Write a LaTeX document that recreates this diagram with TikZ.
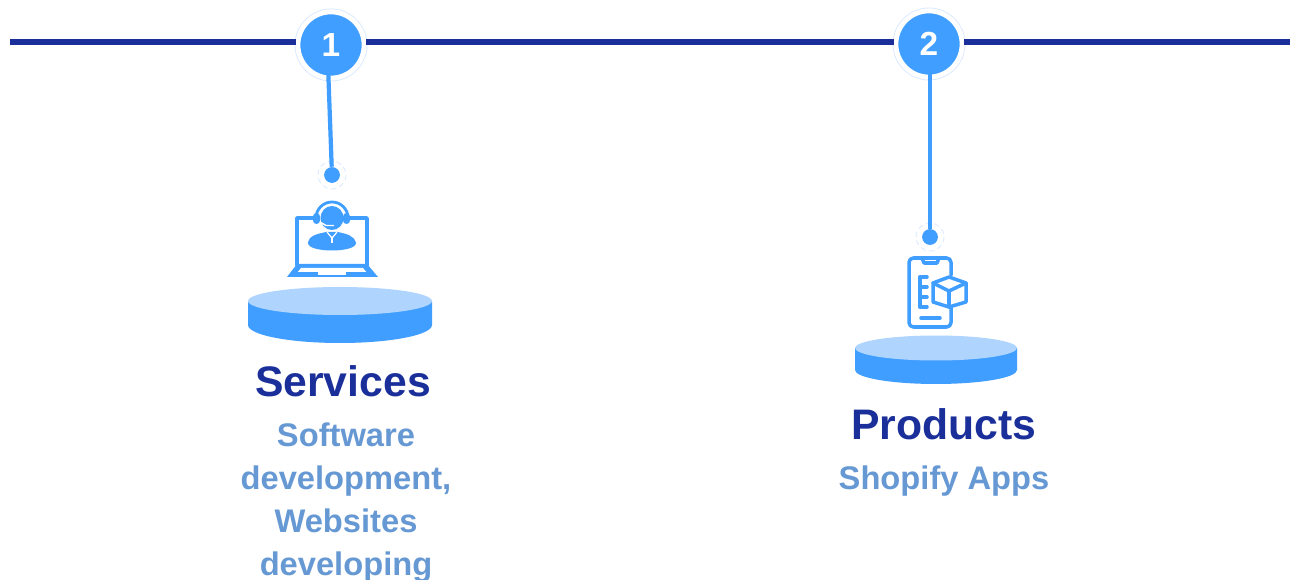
\documentclass[tikz,border=0pt]{standalone}
\usepackage{xcolor}
\usepackage{fontspec}
\setmainfont{Liberation Sans}
\definecolor{navyline}{HTML}{1B2F9B}
\definecolor{skyblue}{HTML}{3F9EFF}
\definecolor{palesky}{HTML}{AFD5FF}
\definecolor{ringblue}{HTML}{DCEBFF}
\definecolor{subblue}{HTML}{6699D3}
\tikzset{
	numdot/.style={circle,fill=skyblue,draw=white,line width=2.6pt,minimum size=37.5pt,inner sep=0pt,text=white,font=\bfseries\fontsize{19}{19}\selectfont},
	enddot/.style={circle,fill=skyblue,minimum size=9pt,inner sep=0pt},
	ring/.style={draw=ringblue,line width=0.5pt},
	heading/.style={text=navyline,font=\bfseries\fontsize{24.3}{28}\selectfont,inner sep=0pt},
	subtext/.style={text=subblue,font=\bfseries\fontsize{18.6}{24.5}\selectfont,align=center,inner sep=0pt},
	icon/.style={draw=skyblue,line width=2pt,line join=round,line cap=round},
	lead/.style={skyblue,line width=2.4pt,shorten <=-3pt},
	rail/.style={navyline,line width=3.4pt}
}
\begin{document}
\begin{tikzpicture}[x=0.02cm,y=-0.02cm]
		\useasboundingbox[fill=white](0,0)rectangle(1290,580);
		\coordinate (linestart) at (10,42);
		\coordinate (lineend) at (1290,42);
		\draw[ring](331,45)circle(36);
		\draw[ring](929,44)circle(36);
		\draw[ring,densely dashed](332,175)circle(14);
		\draw[ring,densely dashed](930,237)circle(14);
		\node[numdot] (one) at (331,45){1};
		\node[numdot] (two) at (929,44){2};
		\node[enddot] (dotone) at (332,175){};
		\node[enddot] (dottwo) at (930,237){};
		% timeline and leads
		\draw[rail](linestart)--(linestart-|one.west);
		\draw[rail](linestart-|one.east)--(linestart-|two.west);
		\draw[rail](linestart-|two.east)--(lineend);
		\draw[lead](one.266)--(dotone);
		\draw[lead](two.south-|dottwo)--(dottwo);
		% disk under the laptop
		\fill[skyblue](248,302)--(248,325) arc[start angle=180,end angle=360,x radius=92,y radius=-18]--(432,302)--cycle;
		\fill[palesky](340,301)ellipse[x radius=92,y radius=14];
		% disk under the phone
		\fill[skyblue](855,348)--(855,370) arc[start angle=180,end angle=360,x radius=81,y radius=-14]--(1017,348)--cycle;
		\fill[palesky](936,348)ellipse[x radius=81,y radius=12.5];
		% laptop
		\draw[icon](313,218)--(297,218)--(297,265);
		\draw[icon](350,218)--(367,218)--(367,265);
		\fill[skyblue](297,264)--(367,264)--(378,277)--(287,277)--cycle;
		\fill[white](301,268)--(363,268)--(367,273)--(297,273)--cycle;
		\fill[skyblue](297,272.5)rectangle(367,274);
		\fill[white](318,272.5)--(346,272.5)--(346,275)--(318,275)--cycle;
		% agent
		\fill[skyblue](332,218)ellipse[x radius=11.5,y radius=12];
		\draw[skyblue,line width=1.6pt](316,218)arc[start angle=180,end angle=0,x radius=16,y radius=-16];
		\fill[skyblue,rounded corners=2pt](313,213)rectangle(320,224);
		\fill[skyblue,rounded corners=2pt](343,213)rectangle(350,224);
		\draw[white,line width=0.8pt](320,222)--(326,225.5)--(334,225.5);
		\fill[skyblue](308,243) .. controls (309,235) and (318,234) .. (326,232)--(332,232)--(338,232) .. controls (346,234) and (354,235) .. (356,243) .. controls (356,253) and (308,253) .. (308,243)--cycle;
		\draw[white,line width=0.7pt](327,232)--(331,237)--(333,237)--(337,232);
		\draw[white,line width=0.7pt](332,237)--(332,243);
		% phone
		\draw[icon,rounded corners=2.5pt](951,275)--(951,258)--(909,258)--(909,327)--(951,327)--(951,307);
		\draw[icon](922,258)--(924,263)--(937,263)--(939,258);
		\draw[icon](920,277)--(920,307);
		\draw[icon](920,277)--(927,277);
		\draw[icon](920,287)--(927,287);
		\draw[icon](920,297)--(927,297);
		\draw[icon](920,307)--(927,307);
		\draw[icon](921,318)--(940,318);
		\draw[icon,fill=white](949,277)--(966,283)--(966,302)--(949,307)--(933,302)--(933,283)--cycle;
		\draw[icon](933,283)--(949,291)--(966,283);
		\draw[icon](949,291)--(949,307);
		% labels
		\node[heading] (services) at (343,381){Services};
		\node[subtext,anchor=north] (servicesub) at (346,422.5){Software\\development,\\Websites\\developing};
		\node[heading] (products) at (944,424){Products};
		\node[subtext] (productsub) at (944,481.5){Shopify Apps};
		\end{tikzpicture}
\end{document}
